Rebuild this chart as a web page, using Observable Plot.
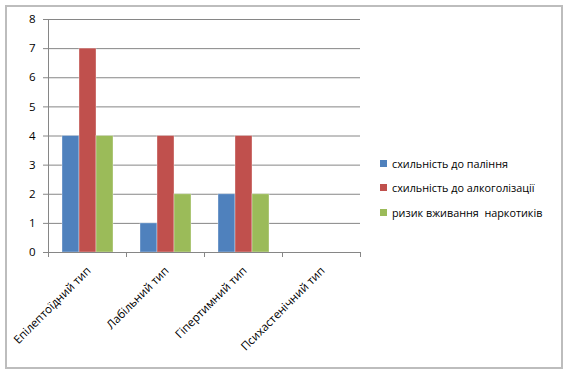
<!DOCTYPE html>
<html>
<head>
<meta charset="utf-8">
<script src="https://cdn.jsdelivr.net/npm/d3@7"></script>
<script src="https://cdn.jsdelivr.net/npm/@observablehq/plot@0.6"></script>
<style>
  html, body { margin: 0; padding: 0; background: #fff; }
  #wrap { position: relative; width: 568px; height: 375px; font-family: "Open Sans", "DejaVu Sans", sans-serif; }
  #border { position: absolute; left: 5px; top: 5px; width: 558px; height: 364px; border: 2px solid #bdbdbd; box-sizing: border-box; }
  #chart { position: absolute; left: 0; top: 0; }
  #legend { position: absolute; left: 380px; top: 151px; font-size: 10.8px; color: #000; }
  .item { display: flex; align-items: center; height: 24.5px; }
  .sw { width: 7px; height: 7px; margin-right: 5px; }
</style>
</head>
<body>
<div id="wrap">
  <div id="border"></div>
  <div id="chart"></div>
  <div id="legend"></div>
</div>
<script>
const categories = ["Епілептоїдний тип", "Лабільний тип", "Гіпертимний тип", "Психастенічний тип"];
const seriesNames = ["схильність до паління", "схильність до алкоголізації", "ризик вживання  наркотиків"];
const smoking = [4, 1, 2, 0];
const alcohol = [7, 4, 4, 0];
const drugs = [4, 2, 2, 0];
const yTicks = [0, 1, 2, 3, 4, 5, 6, 7, 8];
const colors = ["#4F81BD", "#C0504D", "#9BBB59"];

const seriesValues = [smoking, alcohol, drugs];
const data = categories.flatMap((c, i) =>
  seriesNames.map((s, j) => ({category: c, series: s, value: seriesValues[j][i]}))
);

const W = 568, H = 375, mL = 48, mR = 208, mT = 19, mB = 123;
const half = (W - mL - mR) / categories.length / 2;
const plotH = H - mT - mB;
const grid = "#868686";

const chart = Plot.plot({
  width: W, height: H,
  marginLeft: mL, marginRight: mR, marginTop: mT, marginBottom: mB,
  style: {fontFamily: "'Open Sans', 'DejaVu Sans', sans-serif", fontSize: "11px", color: "#000", background: "transparent"},
  fx: {domain: categories, padding: 0, axis: null, label: null},
  x: {domain: seriesNames, paddingInner: 0, paddingOuter: 0.75, axis: null},
  y: {domain: [0, 8], axis: null, label: null},
  color: {domain: seriesNames, range: colors},
  marks: [
    Plot.gridY(yTicks.slice(1), {stroke: grid, strokeOpacity: 1}),
    Plot.barY(data, {fx: "category", x: "series", y: "value", fill: "series", stroke: "#ffffff", strokeOpacity: 0.35, strokeWidth: 1}),
    Plot.ruleY([0], {stroke: grid}),
    Plot.axisY(yTicks, {tickSize: 5, tickPadding: 8, stroke: grid, fill: "#000", fontSize: 11.5, label: null}),
    // y-axis line (left edge of first category)
    Plot.ruleX([categories[0]], {fx: d => d, x: null, dx: -half, insetBottom: -5, stroke: grid}),
    // category boundary ticks
    Plot.ruleX(categories, {fx: d => d, x: null, dx: half, insetTop: plotH, insetBottom: -5, stroke: grid}),
    // category labels
    Plot.text(categories, {fx: d => d, text: d => d, frameAnchor: "bottom", rotate: -45, textAnchor: "end", dx: 4, dy: 19, fontSize: 11.5, fill: "#000"})
  ]
});
document.getElementById("chart").appendChild(chart);

const legend = d3.select("#legend");
seriesNames.forEach((s, j) => {
  const it = legend.append("div").attr("class", "item");
  it.append("div").attr("class", "sw").style("background", colors[j]);
  it.append("span").style("white-space", "pre").text(s);
});
</script>
</body>
</html>
